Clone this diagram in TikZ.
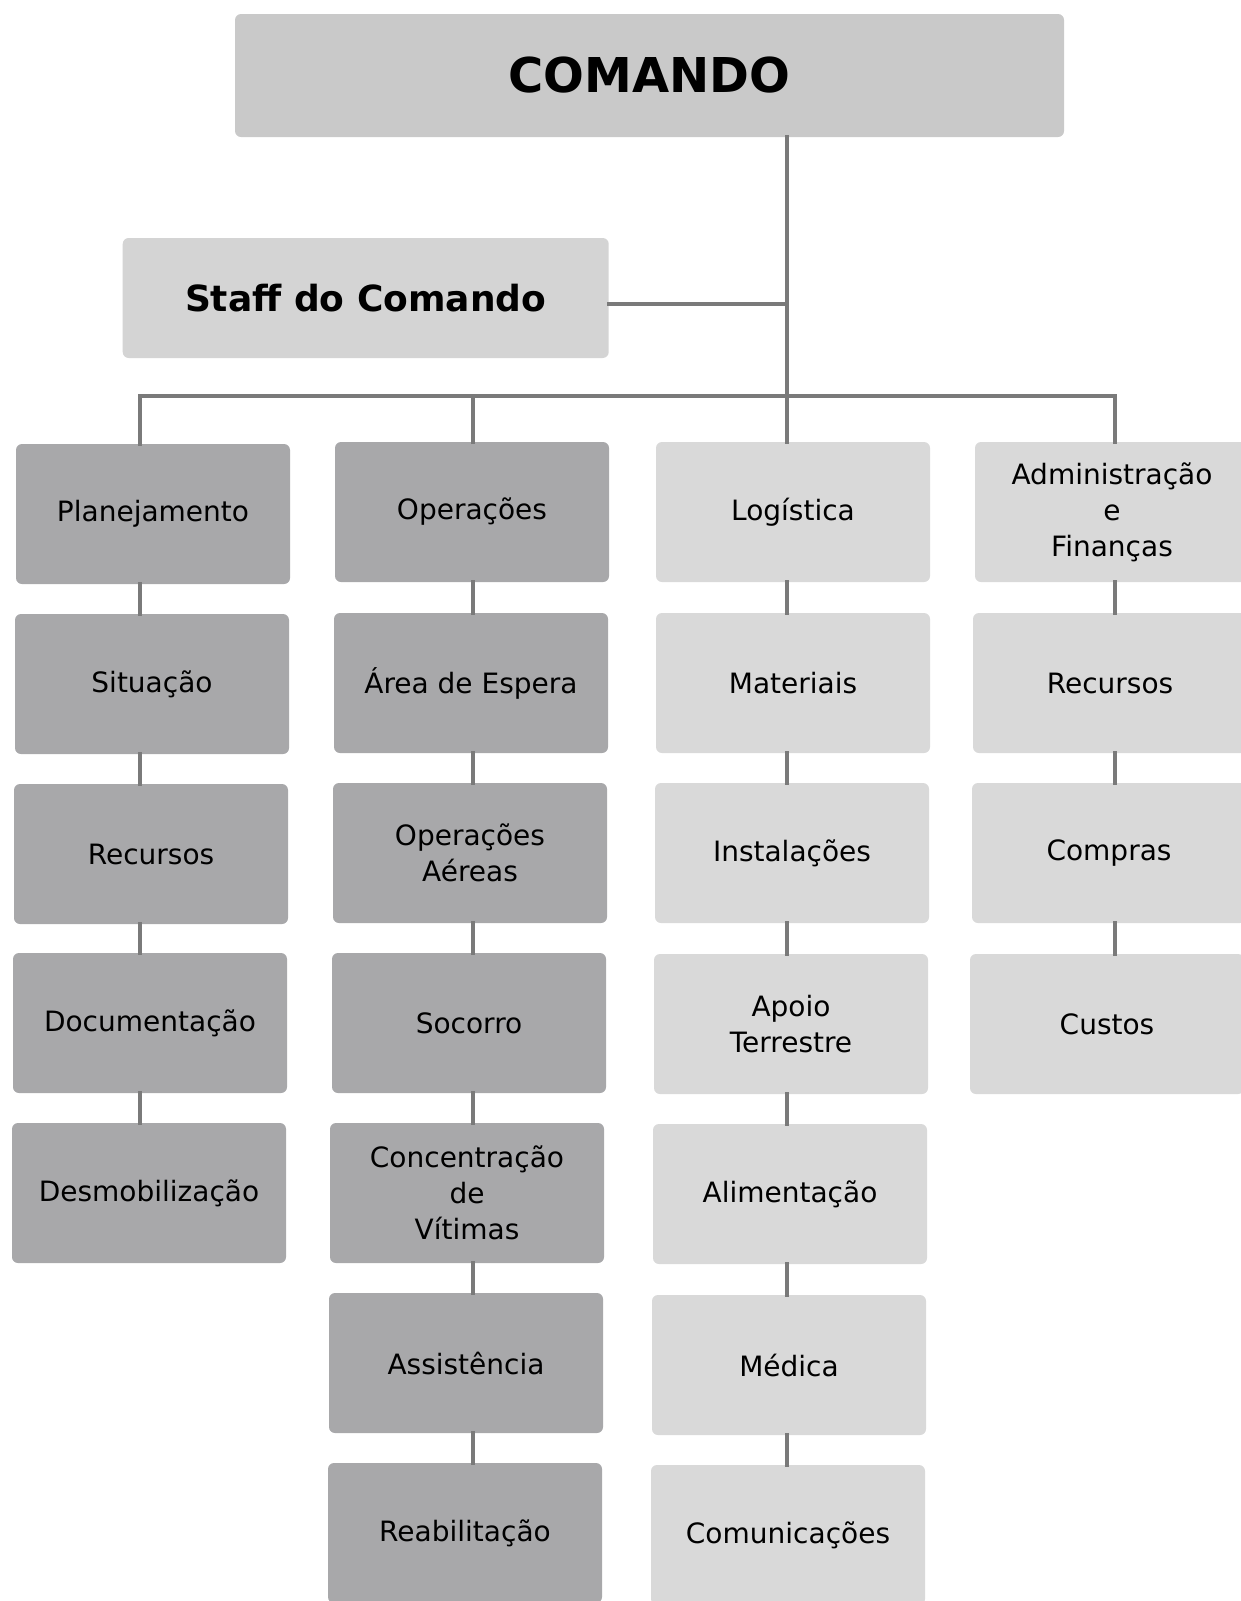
\documentclass[tikz,border=0pt]{standalone}
\usepackage{fontspec}
\setmainfont{DejaVu Sans}
\definecolor{darkbox}{RGB}{168,168,170}
\definecolor{lightbox}{RGB}{217,217,217}
\definecolor{cmdbox}{RGB}{201,201,201}
\definecolor{staffbox}{RGB}{212,212,212}
\definecolor{linecol}{RGB}{122,122,122}
\begin{document}
\begin{tikzpicture}[x=0.5pt,y=-0.5pt,
  box/.style={rounded corners=3pt, minimum width=137pt, minimum height=70pt, inner sep=0pt, align=center, font=\fontsize{14}{18}\selectfont},
  dbox/.style={box, fill=darkbox},
  lbox/.style={box, fill=lightbox},
  conn/.style={draw=linecol, line width=2.4pt, line cap=rect}]
\useasboundingbox (0,0) rectangle (1241,1601);
\fill[white] (0,0) rectangle (1241,1601);
% column connector x positions
\coordinate (c1) at (140,396);
\coordinate (c2) at (473,396);
\coordinate (c3) at (787,396);
\coordinate (c4) at (1115,396);
\coordinate (sy) at (0,304);
% top nodes
\node[rounded corners=3pt, fill=cmdbox, minimum width=414.5pt, minimum height=61.5pt, inner sep=0pt, font=\fontsize{24}{28}\bfseries\selectfont] (cmd) at (649.5,75.5) {COMANDO};
\node[rounded corners=3pt, fill=staffbox, minimum width=243pt, minimum height=60pt, inner sep=0pt, font=\fontsize{18}{22}\bfseries\selectfont] (staff) at (365.7,298) {Staff do Comando};
% column 1
\node[dbox] (p1) at (153,514) {Planejamento};
\node[dbox] (p2) at (152,684) {Situação};
\node[dbox] (p3) at (151,854) {Recursos};
\node[dbox] (p4) at (150,1023) {Documentação};
\node[dbox] (p5) at (149,1193) {Desmobilização};
% column 2
\node[dbox] (o1) at (472,512) {Operações};
\node[dbox] (o2) at (471,683) {Área de Espera};
\node[dbox] (o3) at (470,853) {Operações\\Aéreas};
\node[dbox] (o4) at (469,1023) {Socorro};
\node[dbox] (o5) at (467,1193) {Concentração\\de\\Vítimas};
\node[dbox] (o6) at (466,1363) {Assistência};
\node[dbox] (o7) at (465,1533) {Reabilitação};
% column 3
\node[lbox] (l1) at (793,512) {Logística};
\node[lbox] (l2) at (793,683) {Materiais};
\node[lbox] (l3) at (792,853) {Instalações};
\node[lbox] (l4) at (791,1024) {Apoio\\Terrestre};
\node[lbox] (l5) at (790,1194) {Alimentação};
\node[lbox] (l6) at (789,1365) {Médica};
\node[lbox] (l7) at (788,1535) {Comunicações};
% column 4
\node[lbox] (a1) at (1112,512) {Administração\\e\\Finanças};
\node[lbox] (a2) at (1110,683) {Recursos};
\node[lbox] (a3) at (1109,853) {Compras};
\node[lbox] (a4) at (1107,1024) {Custos};
% connectors
\draw[conn] (cmd.south -| c3) -- (c3);
\draw[conn] (staff.east |- sy) -- (c3 |- sy);
\draw[conn] (c1) -- (c4);
\draw[conn] (c1) -- (p1.north -| c1);
\draw[conn] (c2) -- (o1.north -| c2);
\draw[conn] (c3) -- (l1.north -| c3);
\draw[conn] (c4) -- (a1.north -| c4);
\foreach \a/\b in {p1/p2,p2/p3,p3/p4,p4/p5}{\draw[conn] (\a.south -| c1) -- (\b.north -| c1);}
\foreach \a/\b in {o1/o2,o2/o3,o3/o4,o4/o5,o5/o6,o6/o7}{\draw[conn] (\a.south -| c2) -- (\b.north -| c2);}
\foreach \a/\b in {l1/l2,l2/l3,l3/l4,l4/l5,l5/l6,l6/l7}{\draw[conn] (\a.south -| c3) -- (\b.north -| c3);}
\foreach \a/\b in {a1/a2,a2/a3,a3/a4}{\draw[conn] (\a.south -| c4) -- (\b.north -| c4);}
\end{tikzpicture}
\end{document}
